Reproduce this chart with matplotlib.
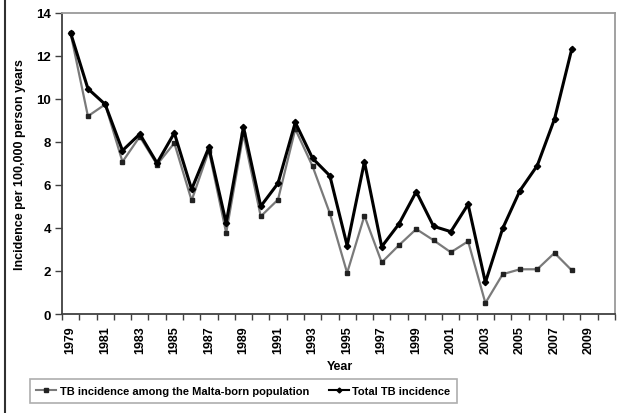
import matplotlib
matplotlib.use("Agg")
import matplotlib.pyplot as plt
from matplotlib.lines import Line2D
from matplotlib.ticker import FixedLocator

plt.rcParams['font.family'] = ['Liberation Sans', 'DejaVu Sans']

years = list(range(1979, 2009))
malta_born = [13.05, 9.2, 9.75, 7.08, 8.25, 6.95, 7.95, 5.28, 7.6, 3.77,
              8.37, 4.54, 5.32, 8.6, 6.87, 4.68, 1.91, 4.57, 2.4, 3.2,
              3.95, 3.43, 2.87, 3.38, 0.51, 1.85, 2.08, 2.08, 2.84, 2.03]
total = [13.07, 10.48, 9.75, 7.6, 8.37, 7.02, 8.42, 5.8, 7.75, 4.23,
         8.7, 5.01, 6.08, 8.91, 7.24, 6.43, 3.18, 7.08, 3.13, 4.19,
         5.69, 4.08, 3.83, 5.1, 1.47, 3.98, 5.74, 6.9, 9.07, 12.33]
year_labels = list(range(1979, 2011, 2))
y_ticks = list(range(0, 15, 2))

fig = plt.figure(figsize=(6.17, 4.14), dpi=100)
ax = fig.add_axes([62/617, 1 - 315/414, (615 - 62)/617, (315 - 14)/414])

ax.plot(years, malta_born, color='#7a7a7a', lw=1.6, marker='s', ms=2.4,
        mfc='#222222', mec='#222222', label='TB incidence among the Malta-born population',
        zorder=2)
ax.plot(years, total, color='#000000', lw=2.2, marker='D', ms=3.2,
        mfc='#000000', mec='#000000', label='Total TB incidence', zorder=3)

ax.set_xlim(1978.5, 2010.5)
ax.set_ylim(0, 14)
ax.set_yticks(y_ticks)
ax.set_xticks(year_labels)
ax.set_xticklabels([str(y) for y in year_labels], rotation=90, fontweight='bold', fontsize=9)
ax.xaxis.set_minor_locator(FixedLocator([1978.5 + k for k in range(33)]))
ax.tick_params(axis='x', which='major', length=0, pad=8)
ax.tick_params(axis='x', which='minor', length=4, width=1, color='#404040', direction='out')
ax.tick_params(axis='y', length=5, width=1, color='#404040', direction='out', pad=3)
for lab in ax.get_yticklabels():
    lab.set_fontweight('bold')
    lab.set_fontsize(9.5)

for side in ('left', 'bottom'):
    ax.spines[side].set_color('#404040')
    ax.spines[side].set_linewidth(1.3)
for side in ('top', 'right'):
    ax.spines[side].set_color('#9a9a9a')
    ax.spines[side].set_linewidth(1.3)

ax.set_ylabel('Incidence per 100,000 person years', fontweight='bold', fontsize=9, labelpad=7)
fig.text(340/617, 1 - 367/414, 'Year', ha='center', va='center', fontweight='bold', fontsize=9)

leg = fig.legend(loc='center', bbox_to_anchor=(243.5/617, 1 - 392/414), ncol=2,
                 frameon=True, fancybox=False, edgecolor='#9a9a9a', handlelength=1.8,
                 handletextpad=0.3, columnspacing=1.8, borderpad=0.6,
                 prop={'weight': 'bold', 'size': 8})
leg.get_frame().set_linewidth(1.2)
for h in leg.legend_handles:
    h.set_linewidth(1.5)
    h.set_markersize(2.5)

fig.add_artist(Line2D([5/617, 5/617], [0, 1], color='#303030', lw=1.5,
                      transform=fig.transFigure))

fig.savefig('out.png', dpi=100)
